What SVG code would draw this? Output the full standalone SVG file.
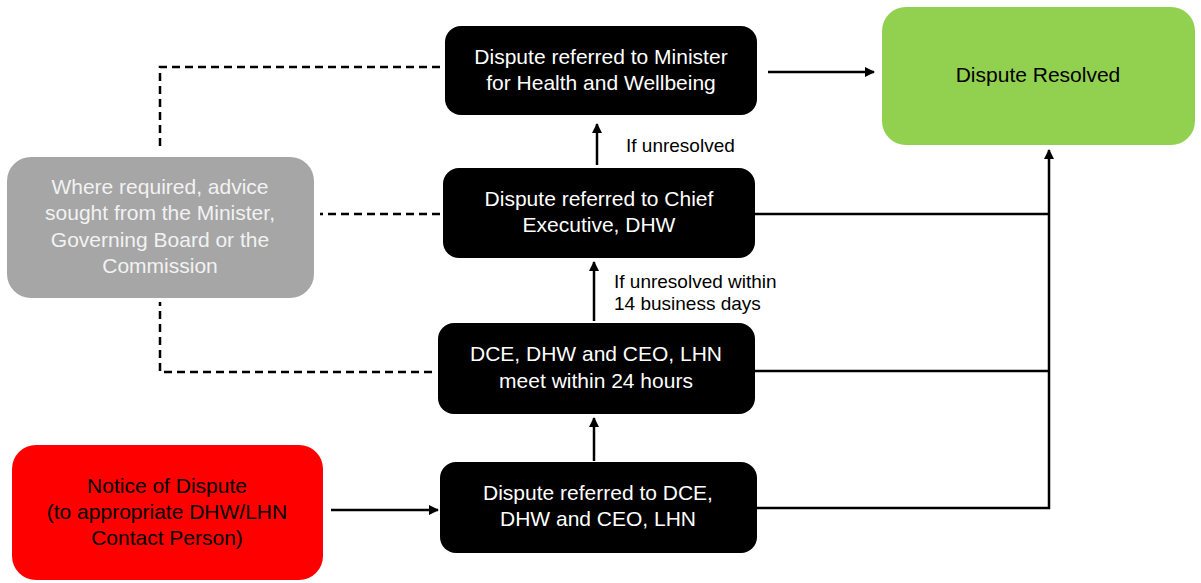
<svg xmlns="http://www.w3.org/2000/svg" width="1201" height="583" viewBox="0 0 1201 583">
<defs>
<marker id="ah" viewBox="0 0 10 10" refX="9" refY="5" markerWidth="10" markerHeight="10" markerUnits="userSpaceOnUse" orient="auto"><path d="M0,0 L10,5 L0,10 z" fill="#000"/></marker>
<style>
text{font-family:"Liberation Sans",Arial,sans-serif;font-size:21px;text-anchor:middle}
.blk{fill:#000}
.wt{fill:#fff}
.gt{fill:#f2f2f2}
.bt{fill:#000}
.lbl{font-size:19px;text-anchor:start;fill:#000}
.ln{stroke:#000;stroke-width:2.5;fill:none}
.ds{stroke:#000;stroke-width:2.5;fill:none;stroke-dasharray:8 5}
</style>
</defs>
<rect width="1201" height="583" fill="#fff"/>
<g id="connectors">
<path class="ln" d="M768,72 H874" marker-end="url(#ah)"/>
<path class="ln" d="M597,165 V124" marker-end="url(#ah)"/>
<path class="ln" d="M594,321 V262" marker-end="url(#ah)"/>
<path class="ln" d="M594,461 V418" marker-end="url(#ah)"/>
<path class="ln" d="M331,510 H438" marker-end="url(#ah)"/>
<path class="ln" d="M755,214 H1049"/>
<path class="ln" d="M755,371 H1049"/>
<path class="ln" d="M757,508 H1049 V150" marker-end="url(#ah)"/>
<path class="ds" d="M440,67 H160 V146"/>
<path class="ds" d="M440,214 H320"/>
<path class="ds" d="M432,372 H160 V302"/>
<text class="lbl" x="626" y="152">If unresolved</text>
<text class="lbl" x="614" y="288">If unresolved within</text>
<text class="lbl" x="614" y="310">14 business days</text>
</g>
<g id="n-minister">
<rect class="blk" x="445" y="26" width="312" height="89" rx="16"/>
<text class="wt" x="601" y="64">Dispute referred to Minister</text>
<text class="wt" x="601" y="90">for Health and Wellbeing</text>
</g>
<g id="n-resolved">
<rect x="882" y="7" width="313" height="138" rx="24" fill="#92D050"/>
<text class="bt" x="1038" y="82">Dispute Resolved</text>
</g>
<g id="n-chief">
<rect class="blk" x="443" y="168" width="312" height="90" rx="16"/>
<text class="wt" x="599" y="206">Dispute referred to Chief</text>
<text class="wt" x="599" y="232">Executive, DHW</text>
</g>
<g id="n-advice">
<rect x="7" y="157" width="307" height="141" rx="24" fill="#A6A6A6"/>
<text class="gt" x="160" y="194">Where required, advice</text>
<text class="gt" x="160" y="220">sought from the Minister,</text>
<text class="gt" x="160" y="247">Governing Board or the</text>
<text class="gt" x="160" y="273">Commission</text>
</g>
<g id="n-meet">
<rect class="blk" x="438" y="323" width="317" height="91" rx="16"/>
<text class="wt" x="596" y="361">DCE, DHW and CEO, LHN</text>
<text class="wt" x="596" y="388">meet within 24 hours</text>
</g>
<g id="n-referral">
<rect class="blk" x="440" y="462" width="317" height="91" rx="16"/>
<text class="wt" x="598" y="500">Dispute referred to DCE,</text>
<text class="wt" x="598" y="526">DHW and CEO, LHN</text>
</g>
<g id="n-notice">
<rect x="12" y="445" width="311" height="135" rx="24" fill="#FF0000"/>
<text class="bt" x="167" y="493">Notice of Dispute</text>
<text class="bt" x="167" y="519">(to appropriate DHW/LHN</text>
<text class="bt" x="167" y="545">Contact Person)</text>
</g>
</svg>
